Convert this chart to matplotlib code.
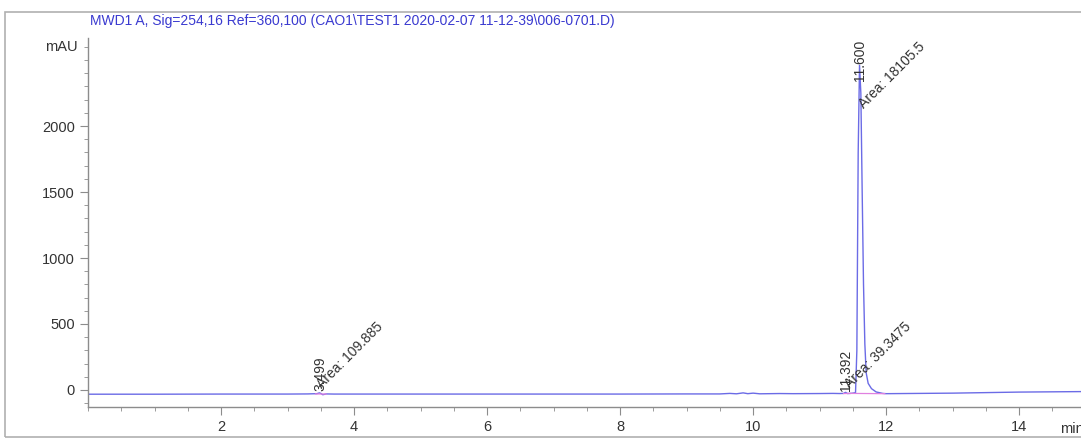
import matplotlib.pyplot as plt
from matplotlib.patches import Rectangle
from matplotlib.ticker import MultipleLocator

# chromatogram trace (min, mAU)
time = [0.0, 1.0, 2.0, 3.0, 3.30, 3.44, 3.48, 3.50, 3.53, 3.58, 3.70, 4.0, 5.0, 6.0,
        7.0, 8.0, 9.0, 9.5, 9.65, 9.75, 9.85, 9.92, 10.0, 10.1, 10.25, 10.4, 10.6,
        11.0, 11.2, 11.3, 11.36, 11.39, 11.42, 11.46, 11.50, 11.54, 11.56, 11.58,
        11.60, 11.62, 11.64, 11.66, 11.68, 11.70, 11.73, 11.78, 11.85, 11.95, 12.0,
        13.0, 14.0, 15.0]
mau = [-32, -32, -31, -31, -30, -28, -22, -26, -36, -30, -31, -31, -31, -31,
       -31, -31, -30, -30, -26, -29, -22, -28, -24, -29, -28, -27, -28,
       -27, -26, -27, -26, -18, -27, -26, -24, -20, 300, 1800,
       2460, 2250, 1500, 800, 350, 130, 50, 10, -15, -26, -28,
       -24, -16, -12]

# integration baselines (start, end) in min, mAU
base_t = [(3.42, 3.58), (11.36, 11.46), (11.47, 11.98)]
base_y = [(-30, -31), (-27, -26), (-26, -28)]

# peak labels
peak_rt = [3.499, 11.392, 11.600]
rt_text = ['3.499', '11.392', '11.600']
rt_y = [-5, -5, 2340]
area_text = ['Area: 109.885', 'Area: 39.3475', 'Area: 18105.5']
area_x = [3.55, 11.49, 11.70]
area_y = [-10, -10, 2110]

y_ticks = [0, 500, 1000, 1500, 2000]
x_ticks = [2, 4, 6, 8, 10, 12, 14]

line_col = '#6b6be6'
base_col = '#e080e0'
axis_col = '#8c8c8c'

fig = plt.figure(figsize=(10.81, 4.43), dpi=100)
ax = fig.add_axes([88 / 1081, 1 - 407 / 443, 1 - 88 / 1081, (407 - 38) / 443])

ax.plot(time, mau, color=line_col, lw=1.0)
for bt, by in zip(base_t, base_y):
    ax.plot(bt, by, color=base_col, lw=0.9)

for rt, txt, y in zip(peak_rt, rt_text, rt_y):
    ax.text(rt, y, txt, rotation=90, ha='center', va='bottom', fontsize=10,
            family='Liberation Sans', color='#333333')
for x, txt, y in zip(area_x, area_text, area_y):
    ax.text(x, y, txt, rotation=45, ha='left', va='bottom', fontsize=10,
            family='Liberation Sans', color='#333333', rotation_mode='anchor')

ax.set_xlim(0, 14.93)
ax.set_ylim(-129, 2667)
ax.set_xticks(x_ticks)
ax.xaxis.set_minor_locator(MultipleLocator(0.5))
ax.set_yticks(y_ticks)
ax.yaxis.set_minor_locator(MultipleLocator(100))

for s in ['top', 'right']:
    ax.spines[s].set_visible(False)
for s in ['left', 'bottom']:
    ax.spines[s].set_color(axis_col)
    ax.spines[s].set_linewidth(1.0)
ax.tick_params(which='both', colors=axis_col, labelcolor='#333333', labelsize=10.5)
ax.tick_params(which='major', length=6)
ax.tick_params(which='minor', length=3)
for lab in ax.get_xticklabels() + ax.get_yticklabels():
    lab.set_family('Liberation Sans')

fig.text(45 / 1081, 1 - 47 / 443, 'mAU', fontsize=10.5, family='Liberation Sans',
         color='#333333', va='center')
fig.text(1060 / 1081, 1 - 429 / 443, 'min', fontsize=10.5, family='Liberation Sans',
         color='#333333', va='center')
fig.text(90 / 1081, 1 - 21 / 443,
         'MWD1 A, Sig=254,16 Ref=360,100 (CAO1\\TEST1 2020-02-07 11-12-39\\006-0701.D)',
         fontsize=10, family='Liberation Sans', color='#3a3ad0', va='center')

fig.patches.append(Rectangle((5 / 1081, 1 - 437 / 443), 1.1, (437 - 12) / 443,
                             transform=fig.transFigure, fill=False,
                             edgecolor='#b0b0b0', lw=1.2))

fig.savefig('out.png', dpi=100)
